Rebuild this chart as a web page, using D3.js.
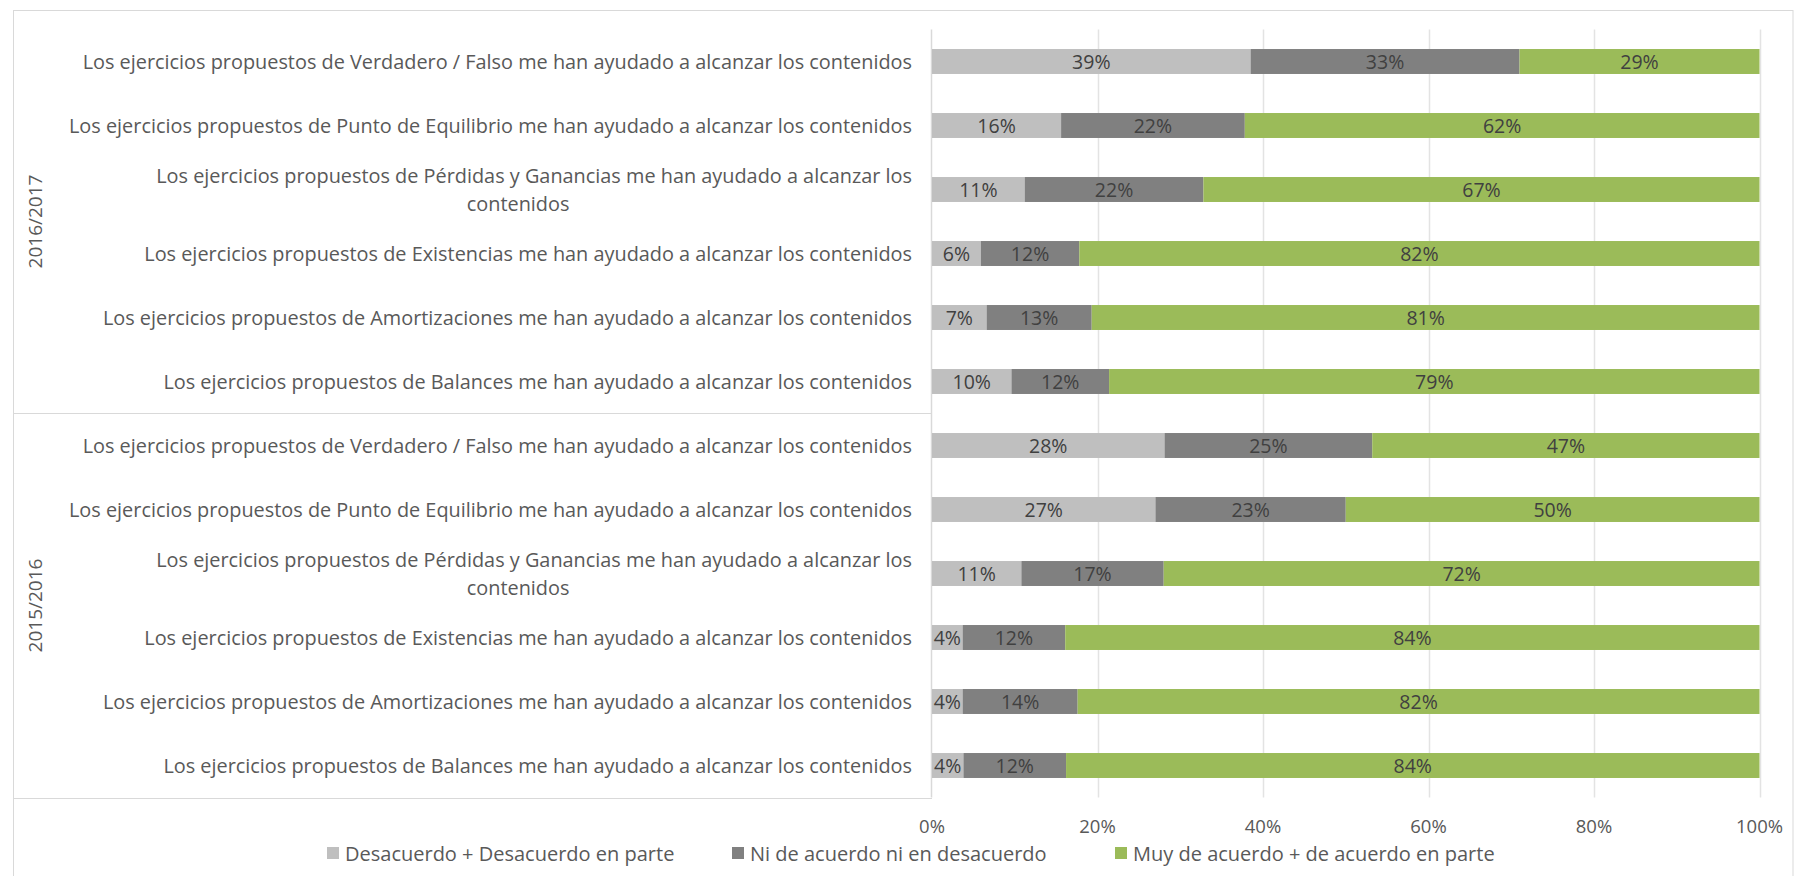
<!DOCTYPE html>
<html>
<head>
<meta charset="utf-8">
<script src="https://cdn.jsdelivr.net/npm/d3@7"></script>
<style>
  html, body { margin: 0; padding: 0; background: #ffffff; }
  svg { display: block; }
  text { font-family: "Open Sans", "Noto Sans", sans-serif; }
</style>
</head>
<body>
<svg id="chart" width="1794" height="876"></svg>
<script>
// ---- data ----
const groups = ["2016/2017", "2015/2016"];
const items = [
  "Los ejercicios propuestos de Verdadero / Falso me han ayudado a alcanzar los contenidos",
  "Los ejercicios propuestos de Punto de Equilibrio me han ayudado a alcanzar los contenidos",
  "Los ejercicios propuestos de Pérdidas y Ganancias me han ayudado a alcanzar los contenidos",
  "Los ejercicios propuestos de Existencias me han ayudado a alcanzar los contenidos",
  "Los ejercicios propuestos de Amortizaciones me han ayudado a alcanzar los contenidos",
  "Los ejercicios propuestos de Balances me han ayudado a alcanzar los contenidos"
];
const seriesNames = ["Desacuerdo + Desacuerdo en parte", "Ni de acuerdo ni en desacuerdo", "Muy de acuerdo + de acuerdo en parte"];
const desacuerdo = [38.5, 15.6, 11.2, 5.9, 6.6, 9.6, 28.1, 27.0, 10.8, 3.7, 3.7, 3.8];
const neutral    = [32.5, 22.2, 21.6, 11.9, 12.7, 11.8, 25.1, 23.0, 17.2, 12.4, 13.9, 12.4];
const acuerdo    = [29.0, 62.2, 67.2, 82.2, 80.7, 78.6, 46.8, 50.0, 72.0, 83.9, 82.4, 83.8];
const xTicks = [0, 20, 40, 60, 80, 100];
const colors = ["#BFBFBF", "#808080", "#9BBB59"];

// ---- build rows ----
const rows = [];
groups.forEach((g, gi) => items.forEach((it, ii) => {
  const idx = gi * items.length + ii;
  rows.push({ id: idx, group: g, label: it, vals: [desacuerdo[idx], neutral[idx], acuerdo[idx]] });
}));

const svg = d3.select("#chart");
const W = 1794, H = 876;
const plot = { left: 932, right: 1759.5, top: 29.5, bottom: 797.5 };

// outer border
svg.append("rect").attr("x", 13.5).attr("y", 10.5).attr("width", W - 14.5).attr("height", H - 5)
  .attr("fill", "none").attr("stroke", "#D9D9D9").attr("stroke-width", 1);

const x = d3.scaleLinear().domain([0, 100]).range([plot.left, plot.right]);
const y = d3.scaleBand().domain(rows.map(r => r.id)).range([plot.top, plot.bottom])
  .paddingInner(0.61).paddingOuter(0.305);

// gridlines
svg.append("g").selectAll("line").data(xTicks.filter(t => t > 0)).join("line")
  .attr("x1", d => Math.round(x(d)) + 0.5).attr("x2", d => Math.round(x(d)) + 0.5)
  .attr("y1", plot.top).attr("y2", plot.bottom)
  .attr("stroke", "#E3E3E3").attr("stroke-width", 1.5);

// category axis line
svg.append("line").attr("x1", plot.left - 0.5).attr("x2", plot.left - 0.5)
  .attr("y1", plot.top).attr("y2", plot.bottom).attr("stroke", "#D9D9D9").attr("stroke-width", 1.5);

// group separator lines (multi-level axis)
const groupBounds = groups.map((g, gi) => {
  const ids = rows.filter(r => r.group === g).map(r => r.id);
  const top = y(ids[0]) - y.step() * y.paddingInner() / 2;
  const bot = y(ids[ids.length - 1]) + y.bandwidth() + y.step() * y.paddingInner() / 2;
  return { g, top, bot };
});
svg.append("g").selectAll("line").data(groupBounds).join("line")
  .attr("x1", 13.5).attr("x2", plot.left)
  .attr("y1", d => Math.round(d.bot) + 0.5).attr("y2", d => Math.round(d.bot) + 0.5)
  .attr("stroke", "#D9D9D9").attr("stroke-width", 1.2);

// group labels
svg.append("g").selectAll("text").data(groupBounds).join("text")
  .attr("transform", d => `translate(35,${(d.top + d.bot) / 2}) rotate(-90)`)
  .attr("text-anchor", "middle").attr("dominant-baseline", "central")
  .attr("font-size", 19).attr("fill", "#595959").text(d => d.g);

// stacked bars
const stackData = rows.map(r => {
  let acc = 0;
  return r.vals.map((v, si) => { const s = { id: r.id, si, v, x0: acc, x1: acc + v }; acc += v; return s; });
}).flat();

svg.append("g").selectAll("rect").data(stackData).join("rect")
  .attr("x", d => x(d.x0)).attr("width", d => x(d.x1) - x(d.x0))
  .attr("y", d => y(d.id)).attr("height", y.bandwidth())
  .attr("fill", d => colors[d.si]);

// data labels
svg.append("g").selectAll("text").data(stackData).join("text")
  .attr("x", d => (x(d.x0) + x(d.x1)) / 2)
  .attr("y", d => y(d.id) + y.bandwidth() / 2)
  .attr("text-anchor", "middle").attr("dominant-baseline", "central")
  .attr("font-size", 19.5).attr("fill", "#404040")
  .text(d => Math.round(d.v) + "%");

// category labels
const labG = svg.append("g");
const labelRight = plot.left - 20;
const FS = 20;
const probe = labG.append("text").attr("font-size", FS).text(items[1]);
const k = 843 / probe.node().getComputedTextLength();
probe.remove();
const maxW = 850;
function measure(s) {
  const t = labG.append("text").attr("font-size", FS).text(s);
  const w = t.node().getComputedTextLength() * k;
  t.remove();
  return w;
}
rows.forEach(r => {
  const words = r.label.split(" ");
  const lines = [];
  let cur = "";
  words.forEach(wd => {
    const test = cur ? cur + " " + wd : wd;
    if (measure(test) > maxW && cur) { lines.push(cur); cur = wd; } else cur = test;
  });
  lines.push(cur);
  const widths = lines.map(measure);
  const wmax = d3.max(widths);
  const cy = y(r.id) + y.bandwidth() / 2;
  const lh = 28.6;
  lines.forEach((ln, li) => {
    const single = lines.length === 1;
    const isWidest = widths[li] === wmax;
    labG.append("text")
      .attr("x", single || isWidest ? labelRight : labelRight - wmax / 2 - 16)
      .attr("y", cy + (li - (lines.length - 1) / 2) * lh)
      .attr("text-anchor", single || isWidest ? "end" : "middle")
      .attr("dominant-baseline", "central")
      .attr("font-size", FS).attr("fill", "#595959")
      .attr("textLength", widths[li]).attr("lengthAdjust", "spacingAndGlyphs")
      .text(ln);
  });
});

// x axis labels
svg.append("g").selectAll("text").data(xTicks).join("text")
  .attr("x", d => x(d)).attr("y", 825)
  .attr("text-anchor", "middle").attr("dominant-baseline", "central")
  .attr("font-size", 18.5).attr("fill", "#595959")
  .text(d => d + "%");

// legend
const legX = [327, 732, 1115];
const leg = svg.append("g").selectAll("g").data(seriesNames).join("g")
  .attr("transform", (d, i) => `translate(${legX[i]},853)`);
leg.append("rect").attr("x", 0).attr("y", -6).attr("width", 12).attr("height", 12)
  .attr("fill", (d, i) => colors[i]);
leg.append("text").attr("x", 18).attr("y", 0).attr("dominant-baseline", "central")
  .attr("font-size", 20).attr("fill", "#595959").text(d => d);
</script>
</body>
</html>
